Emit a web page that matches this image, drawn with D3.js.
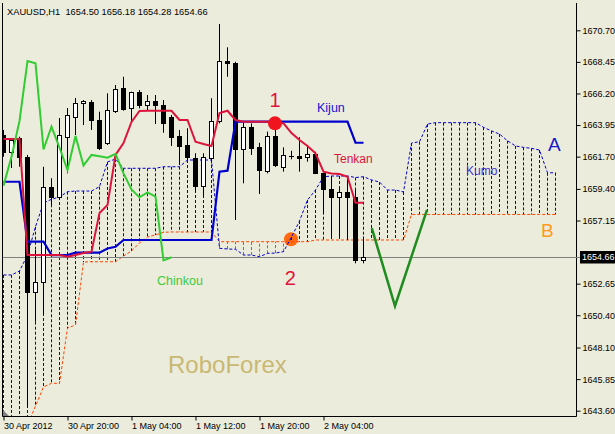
<!DOCTYPE html>
<html><head><meta charset="utf-8">
<script src="https://cdn.jsdelivr.net/npm/d3@7"></script>
<style>body{margin:0;background:#ECECDC}svg{display:block}</style>
</head><body><svg id="c" width="615" height="434"></svg>
<script>
// ---- data ----
const headerText = "XAUUSD,H1  1654.50 1656.18 1654.28 1654.66";
const lastPriceLabel = "1654.66";
const opens = [1663.24,1662.05,1663.01,1661.69,1652.08,1652.79,1659.56,1658.85,1663.12,1664.54,1665.50,1665.61,1664.31,1662.65,1664.97,1666.57,1665.14,1666.33,1665.38,1665.66,1665.38,1664.50,1663.17,1662.53,1661.58,1659.63,1661.58,1664.24,1668.51,1668.39,1662.22,1663.83,1662.41,1660.70,1663.20,1660.98,1661.74,1661.74,1661.65,1661.89,1660.51,1659.37,1658.80,1659.16,1658.80,1654.31];
const highs = [1663.60,1663.03,1663.12,1661.82,1655.05,1660.98,1660.16,1664.45,1665.16,1665.88,1665.73,1665.73,1664.90,1666.21,1666.80,1667.39,1666.33,1666.45,1666.09,1666.09,1665.73,1664.67,1663.60,1663.72,1661.94,1661.94,1665.86,1671.15,1669.49,1668.46,1664.19,1664.07,1662.69,1663.48,1663.95,1662.36,1662.12,1663.08,1662.41,1662.05,1660.55,1660.32,1659.44,1660.32,1659.32,1656.00];
const lows = [1661.69,1660.89,1660.98,1643.86,1649.94,1650.42,1658.25,1658.61,1660.51,1663.24,1663.95,1663.60,1662.17,1662.53,1664.81,1664.97,1664.19,1665.14,1665.02,1664.02,1663.40,1662.46,1661.10,1661.46,1659.20,1658.85,1661.46,1664.07,1667.39,1657.19,1659.80,1661.82,1659.04,1660.51,1660.96,1660.63,1661.51,1660.63,1661.34,1660.46,1657.66,1655.88,1655.90,1655.76,1654.10,1654.10];
const closes = [1662.05,1662.88,1661.65,1652.08,1652.79,1659.56,1658.85,1663.24,1664.67,1665.52,1665.66,1664.31,1662.29,1665.02,1666.50,1665.07,1666.28,1665.38,1665.66,1665.38,1664.12,1663.12,1662.46,1661.65,1659.63,1661.69,1664.24,1668.51,1668.35,1662.22,1663.83,1662.34,1660.75,1663.17,1661.07,1661.82,1661.72,1661.62,1661.89,1660.51,1659.37,1658.80,1659.16,1658.85,1654.31,1654.53];
const tenkan = [1662.96,1662.96,1662.96,1654.69,1654.69,1654.69,1654.69,1654.69,1654.57,1654.69,1654.83,1654.93,1657.68,1658.25,1661.82,1662.67,1664.17,1664.95,1664.97,1664.97,1664.97,1664.97,1664.31,1664.31,1662.76,1662.60,1662.46,1664.81,1664.97,1664.31,1664.19,1664.19,1664.19,1664.19,1664.07,1664.07,1663.38,1662.88,1662.46,1661.94,1660.63,1660.50,1660.46,1660.27,1658.42,1658.42];
const kijun = [1659.91,1659.91,1659.91,1655.64,1655.64,1655.64,1654.69,1654.69,1654.69,1654.86,1654.86,1654.86,1654.86,1655.16,1655.28,1655.76,1655.76,1655.76,1655.76,1655.76,1655.76,1655.76,1655.76,1655.76,1655.76,1655.76,1655.76,1660.63,1660.70,1664.19,1664.19,1664.19,1664.19,1664.19,1664.19,1664.19,1664.19,1664.19,1664.19,1664.19,1664.19,1664.19,1664.19,1664.19,1662.69,1662.69];
const senkouA = [1653.27,1653.27,1653.55,1654.69,1656.71,1658.40,1658.66,1658.82,1659.20,1659.25,1659.25,1659.25,1659.56,1661.32,1661.53,1660.87,1660.87,1660.87,1660.87,1660.87,1660.98,1660.98,1660.98,1661.46,1661.46,1661.46,1661.46,1655.17,1655.12,1655.10,1654.69,1654.69,1654.57,1654.81,1654.83,1654.93,1655.97,1657.11,1658.61,1659.32,1660.27,1660.32,1660.32,1660.32,1660.21,1660.27,1660.04,1659.89,1659.32,1659.32,1659.18,1662.67,1662.76,1664.02,1664.12,1664.12,1664.12,1664.12,1664.12,1664.12,1663.79,1663.53,1663.31,1662.83,1662.46,1662.36,1662.29,1662.17,1660.55,1660.55];
const senkouB = [1640.09,1640.80,1641.51,1642.58,1643.93,1645.29,1645.55,1645.55,1649.49,1649.71,1654.19,1654.21,1654.21,1654.21,1654.21,1654.62,1654.98,1655.55,1655.97,1656.12,1656.31,1656.33,1656.33,1656.33,1656.33,1656.33,1656.33,1655.64,1655.64,1655.64,1655.64,1655.64,1655.64,1655.64,1655.64,1655.64,1655.64,1655.64,1655.64,1655.76,1655.76,1655.76,1655.76,1655.76,1655.76,1655.76,1655.76,1655.76,1655.76,1655.76,1655.76,1657.58,1657.58,1657.58,1657.58,1657.58,1657.58,1657.58,1657.58,1657.58,1657.58,1657.58,1657.58,1657.58,1657.58,1657.58,1657.58,1657.58,1657.58,1657.58];
const chinkouShift = 24;
const yTickValues = [1670.70,1668.45,1666.20,1663.95,1661.70,1659.40,1657.15,1652.65,1650.40,1648.10,1645.85,1643.60];
const xTickIndex = [0,8,16,24,32,40];
const xTickLabels = ["30 Apr 2012","30 Apr 20:00","1 May 04:00","1 May 12:00","1 May 20:00","2 May 04:00"];
// annotations (bar index, price)
const vPath = [[46.1,1656.6],[49,1651.06],[53,1657.9]];
const circle1 = [34,1664.07];
const circle2 = [36,1655.81];
const labels = [
  {t:"1", k:34, p:1665.24, c:"#E0143C", s:20, a:"middle"},
  {t:"2", k:35.9, p:1652.55, c:"#E0143C", s:20, a:"middle"},
  {t:"Kijun", k:39.25, p:1664.88, c:"#1414D2", s:12.5, a:"start"},
  {t:"Tenkan", k:41.375, p:1661.25, c:"#DC143C", s:12, a:"start"},
  {t:"Chinkou", k:19.25, p:1652.59, c:"#3CCB3C", s:12.5, a:"start"},
  {t:"Kumo", k:57.875, p:1660.39, c:"#4630D2", s:12, a:"start"},
  {t:"A", k:68.125, p:1662.07, c:"#1818CC", s:19, a:"start"},
  {t:"B", k:67.25, p:1655.97, c:"#FF9A1A", s:19, a:"start"},
  {t:"RoboForex", k:20.625, p:1646.29, c:"#C9B872", s:24, a:"start"}
];

// ---- chart ----
const W=615,H=434, L=3, R=576, B=416;
const BG="#ECECDC";
const FONT="'Liberation Sans', Arial, sans-serif";
const svg=d3.select("#c");
svg.append("rect").attr("width",W).attr("height",H).attr("fill",BG);
const x=d3.scaleLinear().domain([0,1]).range([3,11]);
const y=d3.scaleLinear().domain([1643.6,1670.7]).range([410.7,30.3]);
const X=k=>Math.round(x(k))+0.5;

svg.append("defs").append("clipPath").attr("id","clip")
  .append("rect").attr("x",L).attr("y",0).attr("width",R-L).attr("height",B-0);
const plot=svg.append("g").attr("clip-path","url(#clip)");

const aColor="#0000CD", bColor="#FF4500";

// orange circle (background object)
plot.append("circle").attr("cx",x(circle2[0])).attr("cy",y(circle2[1])).attr("r",7).attr("fill","#FF6A10");

// kumo hatching
plot.append("g").selectAll("line").data(senkouA).join("line")
  .attr("x1",(d,i)=>X(i)).attr("x2",(d,i)=>X(i))
  .attr("y1",d=>y(d)).attr("y2",(d,i)=>y(senkouB[i]))
  .attr("stroke",(d,i)=>d>=senkouB[i]?aColor:bColor)
  .attr("stroke-width",1).attr("stroke-dasharray","3,2");

const lineGen=d3.line().x((d,i)=>X(i)).y(d=>y(d));
plot.append("path").attr("d",lineGen(senkouB)).attr("fill","none").attr("stroke",bColor).attr("stroke-width",1).attr("stroke-dasharray","3,2");
plot.append("path").attr("d",lineGen(senkouA)).attr("fill","none").attr("stroke",aColor).attr("stroke-width",1).attr("stroke-dasharray","3,2");

// price line
const lastY=Math.round(y(closes[closes.length-1]))+0.5;
plot.append("line").attr("x1",L).attr("x2",R).attr("y1",lastY).attr("y2",lastY).attr("stroke","#808080").attr("stroke-width",1);

// candles
const cg=plot.append("g");
closes.forEach((c,i)=>{
  const cx=X(i);
  cg.append("line").attr("x1",cx).attr("x2",cx).attr("y1",y(highs[i])).attr("y2",y(lows[i])).attr("stroke","#000").attr("stroke-width",1);
  const top=Math.round(y(Math.max(opens[i],c))), bot=Math.round(y(Math.min(opens[i],c)));
  const up=c>=opens[i];
  cg.append("rect").attr("x",cx-2).attr("y",top+0.5).attr("width",4).attr("height",Math.max(bot-top,0.01))
    .attr("fill",up?"#FFFFFF":"#000").attr("stroke","#000").attr("stroke-width",1);
});

// ichimoku lines
plot.append("path").attr("d",lineGen(kijun)).attr("fill","none").attr("stroke","#0000CD").attr("stroke-width",2.2);
plot.append("path").attr("d",lineGen(tenkan)).attr("fill","none").attr("stroke","#DC143C").attr("stroke-width",2);
const chinkou=closes.slice(chinkouShift);
plot.append("path").attr("d",lineGen(chinkou)).attr("fill","none").attr("stroke","#32CD32").attr("stroke-width",2);

// red circle
plot.append("circle").attr("cx",x(circle1[0])).attr("cy",y(circle1[1])).attr("r",7).attr("fill","#F0141E");

// green V
plot.append("path").attr("d",d3.line().x(d=>x(d[0])).y(d=>y(d[1]))(vPath))
  .attr("fill","none").attr("stroke","#1E8C1E").attr("stroke-width",2.5);

// labels
labels.forEach(l=>{
  plot.append("text").attr("x",x(l.k)).attr("y",y(l.p)).attr("text-anchor",l.a)
    .attr("font-family",FONT).attr("font-size",l.s).attr("fill",l.c).text(l.t);
});

// frame
svg.append("path").attr("d",`M${L-0.5},3V${B+0.5}H${R+0.5}V3`).attr("fill","none").attr("stroke","#000").attr("stroke-width",1);
svg.append("path").attr("d",`M${L},${B-6}V${B}H${L+6}Z`).attr("fill","#808080");

// y axis
const yAxis=d3.axisRight(y).tickValues(yTickValues).tickSize(4).tickPadding(2).tickFormat(d3.format(".2f"));
const ya=svg.append("g").attr("transform",`translate(${R+0.5},0)`).call(yAxis);
ya.select(".domain").remove();
ya.selectAll("line").attr("stroke","#000");
ya.selectAll("text").attr("font-family",FONT).attr("font-size",9).attr("fill","#000");

// last price label
svg.append("line").attr("x1",R).attr("x2",R+5).attr("y1",lastY).attr("y2",lastY).attr("stroke","#808080");
svg.append("rect").attr("x",R+4).attr("y",lastY-6.5).attr("width",W-R-4).attr("height",12.5).attr("fill","#000");
svg.append("text").attr("x",R+6).attr("y",lastY).attr("dy","0.33em").attr("font-family",FONT).attr("font-size",9).attr("fill","#fff").text(lastPriceLabel);

// x axis
const xAxis=d3.axisBottom(x).tickValues(xTickIndex).tickSize(4).tickPadding(2).tickFormat((d,i)=>xTickLabels[i]);
const xa=svg.append("g").attr("transform",`translate(0.5,${B+0.5})`).call(xAxis);
xa.select(".domain").remove();
xa.selectAll("line").attr("stroke","#000");
xa.selectAll("text").attr("font-family",FONT).attr("font-size",9).attr("fill","#000").attr("text-anchor","start").attr("x",0);

// header
svg.append("text").attr("x",7).attr("y",14.5).attr("font-family",FONT).attr("font-size",9.3).attr("fill","#000")
  .style("white-space","pre").text(headerText);
</script></body></html>
